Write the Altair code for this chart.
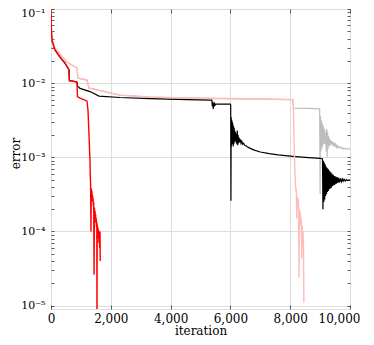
import altair as alt
import pandas as pd

# (iteration, error) pairs
red = [(0, 0.1), (10, 0.06), (20, 0.045), (40, 0.037), (134, 0.028), (300, 0.0224), (468, 0.0186),
       (569, 0.0159), (600, 0.0152), (615, 0.0108), (700, 0.0107), (803, 0.0105), (870, 0.0103),
       (885, 0.0066), (970, 0.0063), (1100, 0.0060), (1204, 0.0057), (1237, 0.0043), (1271, 0.0020),
       (1304, 0.0009), (1315, 5.5e-4), (1325, 4.2e-4), (1338, 1.0e-4), (1348, 3.8e-4), (1358, 3.2e-4),
       (1368, 3.5e-4), (1378, 2.8e-4), (1388, 3.1e-4), (1398, 2.5e-4), (1408, 2.8e-4), (1418, 2.2e-4),
       (1428, 2.5e-4), (1440, 2.6e-5), (1452, 2.1e-4), (1462, 1.7e-4), (1472, 1.9e-4), (1482, 1.5e-4),
       (1492, 1.7e-4), (1502, 1.3e-4), (1512, 1.5e-4), (1522, 1.15e-4), (1532, 1.35e-4), (1538, 5e-6),
       (1545, 1.25e-4), (1556, 9.5e-5), (1568, 1.15e-4), (1580, 8e-5), (1592, 1.05e-4), (1604, 7e-5),
       (1616, 1.0e-4), (1628, 6e-5), (1639, 1.0e-4), (1646, 4e-5)]

pink = [(0, 0.1), (10, 0.06), (20, 0.046), (40, 0.038), (134, 0.0298), (300, 0.0245), (535, 0.0192),
        (870, 0.016), (900, 0.0117), (1204, 0.011), (1270, 0.0086), (1538, 0.0081), (2307, 0.0069),
        (3311, 0.0065), (4548, 0.0063), (6990, 0.0061), (8090, 0.0060), (8110, 0.0043), (8135, 0.0013),
        (8160, 6e-4), (8175, 4.5e-4), (8190, 3.5e-4), (8205, 3.8e-4), (8220, 1.5e-4), (8235, 3.0e-4),
        (8250, 2.5e-4), (8265, 2.8e-4), (8280, 2.2e-4), (8295, 2.4e-5), (8310, 2.0e-4), (8325, 1.6e-4),
        (8340, 1.8e-4), (8355, 1.2e-4), (8370, 1.5e-4), (8385, 4.3e-5), (8400, 1.2e-4), (8415, 8e-5),
        (8430, 1.0e-4), (8445, 6e-5), (8458, 1.1e-5)]

black = [(0, 0.1), (10, 0.06), (20, 0.045), (40, 0.037), (134, 0.028), (300, 0.0224), (468, 0.0186),
         (569, 0.0159), (600, 0.0152), (615, 0.0108), (700, 0.0107), (803, 0.0105), (870, 0.0103),
         (885, 0.0092), (970, 0.0085), (1304, 0.0077), (1605, 0.0067), (2307, 0.0064), (3311, 0.0062),
         (4548, 0.0060), (5317, 0.0059), (5380, 0.0059), (5395, 0.0049), (5410, 0.0056), (5425, 0.0045),
         (5440, 0.0054), (5455, 0.0048), (5470, 0.0053), (5490, 0.0051), (5510, 0.0052), (6000, 0.0052),
         (6010, 0.0051), (6018, 2.6e-4), (6026, 3.5e-3), (6036, 1.4e-3), (6046, 3.2e-3), (6056, 1.5e-3),
         (6066, 3.0e-3), (6076, 1.6e-3), (6086, 2.8e-3), (6096, 1.4e-3), (6106, 2.6e-3), (6116, 1.5e-3),
         (6126, 2.5e-3), (6136, 1.6e-3), (6146, 2.3e-3), (6156, 1.7e-3), (6170, 2.2e-3), (6185, 1.6e-3),
         (6200, 2.1e-3), (6215, 1.5e-3), (6230, 2.3e-3), (6245, 1.45e-3), (6260, 2.0e-3), (6275, 1.55e-3),
         (6290, 1.85e-3), (6310, 1.6e-3), (6330, 1.75e-3), (6355, 1.55e-3), (6380, 1.65e-3), (6410, 1.5e-3),
         (6440, 1.55e-3), (6480, 1.45e-3), (6530, 1.42e-3), (6600, 1.36e-3), (6700, 1.3e-3), (6800, 1.25e-3),
         (7000, 1.18e-3), (7300, 1.12e-3), (7600, 1.08e-3), (8000, 1.04e-3), (8500, 1.0e-3), (9000, 0.97e-3),
         (9080, 9.5e-4), (9095, 2.0e-4), (9110, 9.0e-4), (9125, 2.5e-4), (9140, 8.5e-4), (9155, 2.7e-4),
         (9170, 8.0e-4), (9185, 3.0e-4), (9200, 7.5e-4), (9215, 3.2e-4), (9230, 7.2e-4), (9245, 3.4e-4),
         (9260, 7.0e-4), (9275, 3.5e-4), (9290, 6.8e-4), (9305, 3.7e-4), (9320, 6.5e-4), (9340, 3.8e-4),
         (9360, 6.3e-4), (9380, 3.9e-4), (9400, 6.0e-4), (9420, 4.1e-4), (9440, 5.8e-4), (9460, 4.2e-4),
         (9480, 5.6e-4), (9500, 4.3e-4), (9520, 5.5e-4), (9545, 4.4e-4), (9570, 5.4e-4), (9595, 4.5e-4),
         (9620, 5.3e-4), (9650, 4.6e-4), (9680, 5.2e-4), (9710, 4.7e-4), (9740, 5.1e-4), (9770, 4.75e-4),
         (9800, 5.05e-4), (9840, 4.8e-4), (9880, 5.0e-4), (9920, 4.85e-4), (9960, 4.95e-4), (10000, 4.9e-4)]

gray = [(0, 0.1), (10, 0.06), (20, 0.046), (40, 0.038), (134, 0.0298), (300, 0.0245), (535, 0.0192),
        (870, 0.016), (900, 0.0117), (1204, 0.011), (1270, 0.0086), (1538, 0.0081), (2307, 0.0069),
        (3311, 0.0065), (4548, 0.0063), (6990, 0.0061), (8090, 0.0060), (8110, 0.0046), (8600, 0.00458),
        (8985, 0.0045), (9000, 3.2e-4), (9012, 3.6e-3), (9025, 1.2e-3), (9040, 3.2e-3), (9055, 1.3e-3),
        (9070, 2.9e-3), (9085, 1.4e-3), (9100, 2.7e-3), (9115, 1.5e-3), (9130, 2.5e-3), (9145, 1.55e-3),
        (9160, 2.3e-3), (9175, 1.5e-3), (9190, 2.1e-3), (9205, 1.2e-3), (9220, 2.4e-3), (9235, 1.0e-3),
        (9250, 2.2e-3), (9265, 1.3e-3), (9280, 1.95e-3), (9295, 1.4e-3), (9315, 1.8e-3), (9335, 1.45e-3),
        (9355, 1.7e-3), (9375, 1.5e-3), (9395, 1.65e-3), (9415, 1.45e-3), (9435, 1.6e-3), (9455, 1.4e-3),
        (9475, 1.55e-3), (9495, 1.4e-3), (9520, 1.5e-3), (9545, 1.36e-3), (9570, 1.45e-3), (9600, 1.35e-3),
        (9640, 1.4e-3), (9680, 1.32e-3), (9720, 1.37e-3), (9760, 1.3e-3), (9800, 1.33e-3), (9860, 1.3e-3),
        (9930, 1.3e-3), (10000, 1.29e-3)]

series_order = ["gray", "black", "pink", "red"]
series_data = {"red": red, "pink": pink, "black": black, "gray": gray}
series_colors = {"red": "#ff0000", "pink": "#ffbcbc", "black": "#000000", "gray": "#bdbdbd"}
series_widths = {"red": 1.4, "pink": 1.4, "black": 1.2, "gray": 1.2}

x_ticks = [0, 2000, 4000, 6000, 8000, 10000]
y_ticks = [1e-5, 1e-4, 1e-3, 1e-2, 1e-1]
y_tick_labels = ["10⁻⁵", "10⁻⁴", "10⁻³", "10⁻²", "10⁻¹"]
y_minor = [2e-5, 3e-5, 4e-5, 5e-5, 6e-5, 7e-5, 8e-5, 9e-5,
           2e-4, 3e-4, 4e-4, 5e-4, 6e-4, 7e-4, 8e-4, 9e-4,
           2e-3, 3e-3, 4e-3, 5e-3, 6e-3, 7e-3, 8e-3, 9e-3,
           2e-2, 3e-2, 4e-2, 5e-2, 6e-2, 7e-2, 8e-2, 9e-2]
y_domain = [9.0e-6, 0.1]
x_domain = [0, 10000]

FONT = "DejaVu Serif"
FS = 12
W, H = 299, 300

xscale = alt.Scale(domain=x_domain, nice=False, zero=False)
yscale = alt.Scale(type="log", domain=y_domain, nice=False)

label_arr = "[" + ",".join("'" + s + "'" for s in y_tick_labels) + "]"
y_label_expr = label_arr + "[round(log(datum.value)/LN10) + 5]"


def frame(name):
    rows = series_data[name]
    return pd.DataFrame({"iteration": [r[0] for r in rows],
                         "error": [r[1] for r in rows],
                         "idx": list(range(len(rows)))})


main_x_axis = alt.Axis(values=x_ticks, format=",d", grid=True, gridColor="#dadada", gridWidth=0.9,
                       ticks=False, tickSize=0, domain=False, labelFlush=False,
                       labelFont=FONT, labelFontSize=FS, labelColor="#000",
                       labelBaseline="alphabetic", labelPadding=13,
                       labelOffset={"condition": {"test": "datum.value > 9000", "value": -11}, "value": 0},
                       title="iteration", titleFont=FONT, titleFontSize=FS, titleFontWeight="normal",
                       titleColor="#000", titleBaseline="alphabetic", titleY=25)
main_y_axis = alt.Axis(values=y_ticks, labelExpr=y_label_expr, grid=True, gridColor="#dadada", gridWidth=0.9,
                       ticks=False, tickSize=0, domain=False, labelFlush=False,
                       labelFont=FONT, labelFontSize=11, labelColor="#000", labelPadding=6,
                       labelOffset={"condition": {"test": "datum.value > 0.05", "value": 4}, "value": 0},
                       title="error", titleFont=FONT, titleFontSize=FS, titleFontWeight="normal",
                       titleColor="#000", titleAngle=270, titleBaseline="alphabetic",
                       titleX=-32, titleY=144, titleAlign="center")


def tick_axis(orient, offset, values, size):
    return alt.Axis(orient=orient, offset=offset, values=values, labels=False, grid=False, domain=False,
                    ticks=True, tickSize=size, tickColor="#333", tickWidth=0.8, title=None)


layers = []
for i, name in enumerate(series_order):
    df = frame(name)
    layers.append(
        alt.Chart(df).mark_line(color=series_colors[name], strokeWidth=series_widths[name], clip=True)
        .encode(x=alt.X("iteration:Q", scale=xscale, axis=main_x_axis if i == 0 else None),
                y=alt.Y("error:Q", scale=yscale, axis=main_y_axis if i == 0 else None),
                order="idx:Q")
    )

tick_df = frame("black")
ticks_a = alt.Chart(tick_df).mark_point(opacity=0).encode(
    x=alt.X("iteration:Q", scale=xscale, axis=tick_axis("top", -H, x_ticks, 4)),
    y=alt.Y("error:Q", scale=yscale, axis=tick_axis("right", -W, y_ticks + y_minor, 3)),
)
ticks_b = alt.Chart(tick_df).mark_point(opacity=0).encode(
    x=alt.X("iteration:Q", scale=xscale, axis=tick_axis("bottom", -H, x_ticks, 4)),
    y=alt.Y("error:Q", scale=yscale, axis=tick_axis("left", -W, y_ticks + y_minor, 3)),
)

chart = alt.layer(*layers, ticks_a, ticks_b).resolve_axis(x="independent", y="independent").properties(
    width=W, height=H,
    autosize=alt.AutoSizeParams(type="none"),
    padding={"left": 43, "top": 1, "right": 16, "bottom": 28},
).configure_view(stroke="#000", strokeWidth=1).configure(background="white")

chart.save("out.html", embed_options={"renderer": "svg", "actions": False})
